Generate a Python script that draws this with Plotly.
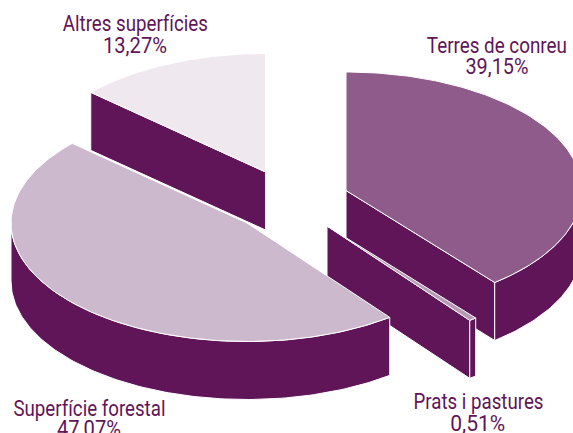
import json
import math
import plotly.graph_objects as go

# Data
categories = ["Terres de conreu", "Prats i pastures", "Superfície forestal", "Altres superfícies"]
values = [39.15, 0.51, 47.07, 13.27]
value_labels = ["39,15%", "0,51%", "47,07%", "13,27%"]

# Style / layout
W, H = 573, 433
RX, RY, DEPTH = 236, 118.5, 58
CENTERS = {"Terres de conreu": (346, 190.5), "Prats i pastures": (327, 226),
           "Superfície forestal": (247, 223), "Altres superfícies": (265.5, 172)}
TOPS = {"Terres de conreu": "#8f5b8b", "Prats i pastures": "#b79ab5",
        "Superfície forestal": "#cdb9cd", "Altres superfícies": "#efe8ef"}
WALL = "#5f1558"
LABEL_POS = {"Terres de conreu": (497, 45, 66), "Prats i pastures": (478, 401, 423),
             "Superfície forestal": (89, 408, 428), "Altres superfícies": (135, 23, 45)}
TEXT_WIDTHS = {"Terres de conreu": 140, "Prats i pastures": 130, "Superfície forestal": 152,
               "Altres superfícies": 145, "39,15%": 63, "0,51%": 55, "47,07%": 64, "13,27%": 64}
DRAW_ORDER = ["Altres superfícies", "Terres de conreu", "Prats i pastures", "Superfície forestal"]

total = sum(values)
spans = {}
acc = 0.0
for c, v in zip(categories, values):
    spans[c] = (acc, acc + v / total * 360)
    acc += v / total * 360


def rim(c, deg):
    cx, cy = CENTERS[c]
    t = math.radians(deg)
    return cx + RX * math.sin(t), cy - RY * math.cos(t)


def arc(c, a, b):
    n = max(2, int(abs(b - a)) + 2)
    return [rim(c, a + (b - a) * i / (n - 1)) for i in range(n)]


fig = go.Figure()


def poly(pts, color, name):
    xs = [p[0] for p in pts] + [pts[0][0]]
    ys = [p[1] for p in pts] + [pts[0][1]]
    fig.add_trace(go.Scatter(x=xs, y=ys, mode="lines", fill="toself", fillcolor=color,
                             line=dict(color="white", width=1), name=name,
                             hoverinfo="name", showlegend=False))


for c in DRAW_ORDER:
    a, b = spans[c]
    apex = CENTERS[c]
    down = lambda p: (p[0], p[1] + DEPTH)
    # cut faces that look towards the viewer
    if b < 180:
        e = rim(c, b)
        poly([apex, e, down(e), down(apex)], WALL, c)
    if a > 180:
        e = rim(c, a)
        poly([apex, e, down(e), down(apex)], WALL, c)
    # outer face
    lo, hi = max(a, 90), min(b, 270)
    if lo < hi:
        top_edge = arc(c, lo, hi)
        poly(top_edge + [down(p) for p in reversed(top_edge)], WALL, c)
    # top face
    poly([apex] + arc(c, a, b), TOPS[c], c)

for c, txt in zip(categories, value_labels):
    x, y1, y2 = LABEL_POS[c]
    for t, y in ((c, y1), (txt, y2)):
        fig.add_annotation(x=x, y=y, text=t, showarrow=False, xanchor="center", yanchor="middle",
                           font=dict(family="Roboto", size=22, color=WALL, weight=400))

fig.update_layout(width=W, height=H, margin=dict(l=0, r=0, t=0, b=0), autosize=False,
                  paper_bgcolor="white", plot_bgcolor="white", showlegend=False,
                  xaxis=dict(visible=False, range=[0, W], fixedrange=True),
                  yaxis=dict(visible=False, range=[H, 0], fixedrange=True))

post = """
document.body.style.margin = '0';
var widths = %s;
document.querySelectorAll('.annotation-text').forEach(function (t) {
  var w = widths[t.textContent];
  if (w) { t.setAttribute('textLength', w); t.setAttribute('lengthAdjust', 'spacingAndGlyphs'); }
});
""" % json.dumps(TEXT_WIDTHS, ensure_ascii=False)
fig.write_html("out.html", config={"displayModeBar": False}, post_script=post)
